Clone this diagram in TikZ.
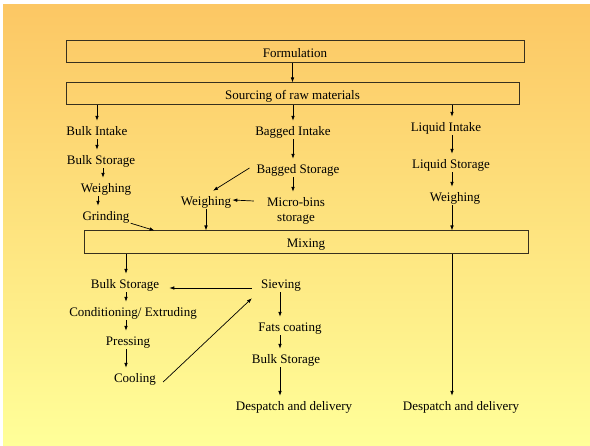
\documentclass[tikz,border=0pt]{standalone}
\usepackage{fontspec}
\setmainfont{Liberation Serif}
\usetikzlibrary{arrows.meta}
\definecolor{topc}{RGB}{252,199,100}
\definecolor{botc}{RGB}{255,255,153}
\definecolor{boxline}{RGB}{55,48,30}
\begin{document}
\begin{tikzpicture}[x=1pt,y=-1pt,
  lbl/.style={anchor=base,inner xsep=1pt,inner ysep=0pt,text height=15pt,text depth=3pt,font=\fontsize{13}{15}\selectfont},
  boxnode/.style={draw=boxline,line width=1pt,inner sep=0pt,text height=12pt,text depth=1.5pt,font=\fontsize{13}{15}\selectfont},
  arr/.style={draw=black,line width=0.7pt,-{Latex[length=5pt,width=3.6pt]}}]
\useasboundingbox (0,0) rectangle (590,446);
\fill[white] (0,0) rectangle (590,446);
\shade[top color=topc,bottom color=botc] (3,5) rectangle (590,446);

% boxes
\node[boxnode,minimum width=458pt,minimum height=22pt] (form) at (295,52) {Formulation};
\node[boxnode,minimum width=453pt,minimum height=22pt] (src) at (292.5,94) {Sourcing of raw materials};
\node[boxnode,minimum width=444pt,minimum height=23pt] (mix) at (306,242.5) {Mixing};

% left column
\node[lbl] (bi) at (97,136) {Bulk Intake};
\node[lbl] (bs) at (101,165) {Bulk Storage};
\node[lbl] (wl) at (106,193) {Weighing};
\node[lbl] (gr) at (106,221) {Grinding};
% middle column
\node[lbl] (bgi) at (293,136) {Bagged Intake};
\node[lbl] (bgs) at (298,174) {Bagged Storage};
\node[lbl] (mb) at (296,207) {Micro-bins};
\node[lbl] (mbs) at (296,222) {storage};
\node[lbl] (wm) at (206,206) {Weighing};
% right column
\node[lbl] (li) at (446,132) {Liquid Intake};
\node[lbl] (ls) at (451,169) {Liquid Storage};
\node[lbl] (wr) at (455,202) {Weighing};
% lower part
\node[lbl] (bs2) at (125,289) {Bulk Storage};
\node[lbl] (ce) at (133,317) {Conditioning/ Extruding};
\node[lbl] (pr) at (128,346) {Pressing};
\node[lbl] (co) at (135,383) {Cooling};
\node[lbl] (sv) at (281,289) {Sieving};
\node[lbl] (fc) at (290,332) {Fats coating};
\node[lbl] (bs3) at (286,364) {Bulk Storage};
\node[lbl] (dd1) at (294,411) {Despatch and delivery};
\node[lbl] (dd2) at (461,411) {Despatch and delivery};

% helper x positions
\coordinate (lx) at ([xshift=6pt]li.north);
\coordinate (bx) at ([xshift=2pt]bs.south);
\coordinate (wx) at ([xshift=-8pt]wl.south);
\coordinate (gx) at ([xshift=-5pt]bgs.south);
\coordinate (cx) at ([xshift=1pt]bs2.south);
\coordinate (sx) at ([xshift=-1pt]sv.south);

% top
\draw[arr] (src.north |- form.south) -- (src.north);
\draw[arr] (bi.north |- src.south) -- (bi.north);
\draw[arr] (bgi.north |- src.south) -- (bgi.north);
\draw[arr] (lx |- src.south) -- (lx |- li.north);

% left column
\draw[arr] (bi.south) -- (bi.south |- bs.north);
\draw[arr] (bx) -- (bx |- wl.north);
\draw[arr] (wx) -- (wx |- gr.north);
\draw[arr] ([yshift=1pt]gr.south east) -- ([xshift=71pt]mix.north west);

% middle column
\draw[arr] (bgi.south) -- (bgi.south |- bgs.north);
\draw[arr] (gx) -- (gx |- mb.north);
\draw[arr] ([xshift=-6pt]bgs.west) -- ([xshift=7pt]wm.north);
\draw[arr] ([xshift=-12pt]mb.west) -- (wm.east);
\draw[arr] (wm.south) -- (wm.south |- mix.north);

% right column
\draw[arr] (lx |- li.south) -- (lx |- ls.north);
\draw[arr] (lx |- ls.south) -- (lx |- wr.north);
\draw[arr] (lx |- wr.south) -- (lx |- mix.north);
\draw[arr] (lx |- mix.south) -- (lx |- dd2.north);

% lower left
\draw[arr] (cx |- mix.south) -- (cx |- bs2.north);
\draw[arr] (cx) -- (cx |- ce.north);
\draw[arr] (cx |- ce.south) -- (cx |- pr.north);
\draw[arr] (cx |- pr.south) -- (cx |- co.north);
\draw[arr] ([xshift=6pt,yshift=-5pt]co.east) -- ([xshift=-8pt,yshift=-6pt]sv.south west);
\draw[arr] ([xshift=-8pt,yshift=-5pt]sv.west) -- ([xshift=9pt,yshift=-5pt]bs2.east);

% lower middle
\draw[arr] (sx) -- (sx |- fc.north);
\draw[arr] (sx |- fc.south) -- (sx |- bs3.north);
\draw[arr] (sx |- bs3.south) -- (sx |- dd1.north);
\end{tikzpicture}
\end{document}
